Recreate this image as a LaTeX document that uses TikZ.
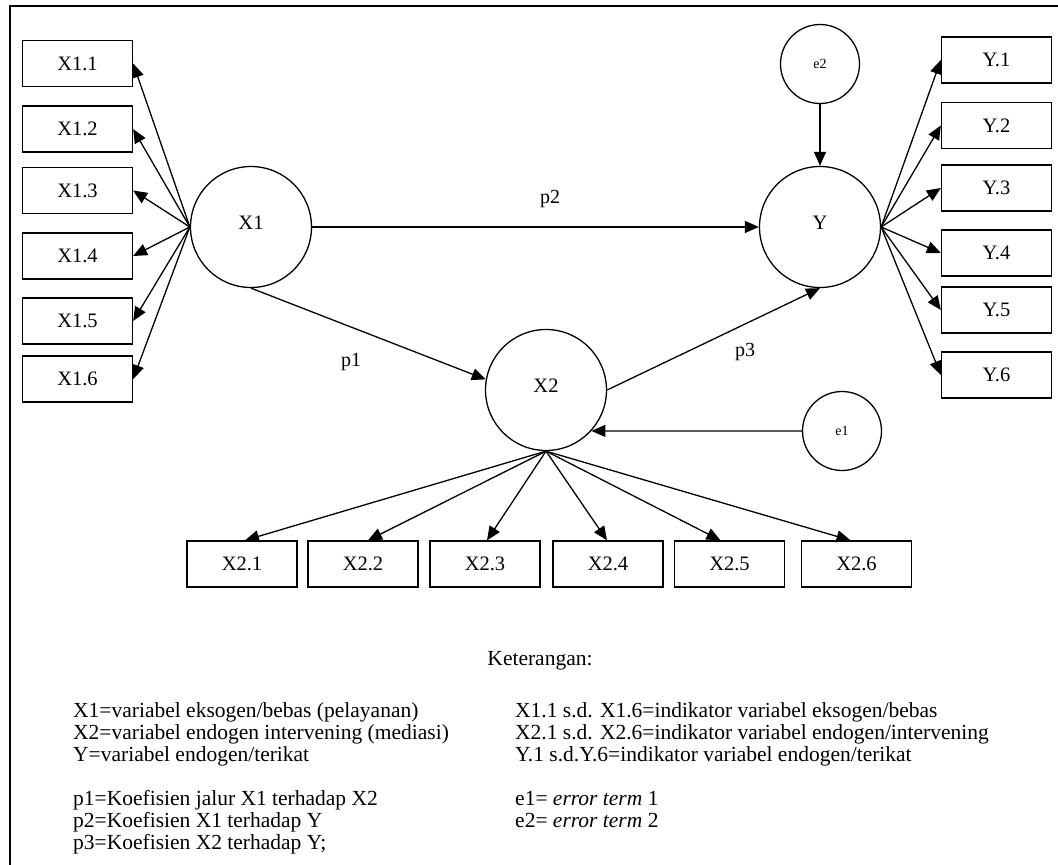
\documentclass[tikz,border=0pt]{standalone}
\usepackage{fontspec}
\setmainfont{Liberation Serif}
\usetikzlibrary{arrows.meta}

\begin{document}
\begin{tikzpicture}[x=1pt,y=-1pt,
  ind/.style={draw,line width=1.3pt,minimum width=110pt,minimum height=46pt,inner sep=0pt,
    font=\fontsize{20.5}{24}\selectfont},
  lat/.style={draw,circle,line width=1.3pt,minimum size=121pt,inner sep=0pt,
    font=\fontsize{20.5}{24}\selectfont,text depth=8pt},
  err/.style={draw,circle,line width=1.3pt,minimum size=79pt,inner sep=0pt,
    font=\fontsize{14}{16}\selectfont},
  arr/.style={line width=1.3pt,-{Triangle[length=14pt,width=12pt]}},
  lbl/.style={font=\fontsize{20}{24}\selectfont,inner sep=0pt},
  leg/.style={font=\fontsize{21.5}{24}\selectfont,anchor=base west,inner sep=0pt},
  legc/.style={font=\fontsize{21.5}{24}\selectfont,anchor=base,inner sep=0pt}
]
\useasboundingbox (0,0) rectangle (1058,865);

% outer frame (open to the right and bottom)
\draw[line width=1.8pt] (10,875) -- (10,6) -- (1070,6);

% latent variables
\node[lat] (X1) at (251,227) {X1};
\node[lat] (Y)  at (820,227) {Y};
\node[lat] (X2) at (546,390) {X2};

% error terms
\node[err] (e2) at (820,64) {e2};
\node[err] (e1) at (842,431) {e1};

% indicators of X1
\node[ind] (X11) at (77.5,63.5) {X1.1};
\node[ind] (X12) at (77.5,129)  {X1.2};
\node[ind] (X13) at (77.5,190.5){X1.3};
\node[ind] (X14) at (77.5,256)  {X1.4};
\node[ind] (X15) at (77.5,321)  {X1.5};
\node[ind] (X16) at (77.5,379)  {X1.6};

% indicators of Y
\node[ind] (Y1) at (996.5,60)   {Y.1};
\node[ind] (Y2) at (996.5,125.5){Y.2};
\node[ind] (Y3) at (996.5,188)  {Y.3};
\node[ind] (Y4) at (996.5,253)  {Y.4};
\node[ind] (Y5) at (996.5,310)  {Y.5};
\node[ind] (Y6) at (996.5,375)  {Y.6};

% indicators of X2
\node[ind] (X21) at (242,564)   {X2.1};
\node[ind] (X22) at (363,564)   {X2.2};
\node[ind] (X23) at (485,564)   {X2.3};
\node[ind] (X24) at (608,564)   {X2.4};
\node[ind] (X25) at (729.5,564) {X2.5};
\node[ind] (X26) at (856.5,564) {X2.6};

% loadings
\foreach \i in {1,...,6} {
  \draw[arr] (X1.west) -- (X1\i.east);
  \draw[arr] (Y.east) -- (Y\i.west);
}
\draw[arr] (X2.south) -- ([xshift=3pt]X21.north);
\draw[arr] (X2.south) -- ([xshift=5pt]X22.north);
\draw[arr] (X2.south) -- ([xshift=2pt]X23.north);
\draw[arr] (X2.south) -- ([xshift=-1pt]X24.north);
\draw[arr] (X2.south) -- ([xshift=-9pt]X25.north);
\draw[arr] (X2.south) -- ([xshift=-6pt]X26.north);

% structural paths
\draw[arr] (X1.east) -- (Y.west);
\draw[arr] (X1.south) -- (X2.170);
\draw[arr] (X2.east) -- (Y.south);
\draw[arr] (e2.south) -- (Y.north);
\draw[arr] (e1.west) -- (X2.-42);

% path labels
\node[lbl] (p2) at (550,199) {p2};
\node[lbl] (p1) at (351,362) {p1};
\node[lbl] (p3) at (745,352) {p3};

% legend
\node[legc] (ket) at (540,665) {Keterangan:};
\node[leg] (l1) at (73,717) {X1=variabel eksogen/bebas (pelayanan)};
\node[leg] (l2) at (73,739) {X2=variabel endogen intervening (mediasi)};
\node[leg] (l3) at (73,761) {Y=variabel endogen/terikat};
\node[leg] (l4) at (73,805) {p1=Koefisien jalur X1 terhadap X2};
\node[leg] (l5) at (73,827) {p2=Koefisien X1 terhadap Y};
\node[leg] (l6) at (73,849) {p3=Koefisien X2 terhadap Y;};
\node[leg] (r1) at (515,717) {X1.1 s.d. X1.6=indikator variabel eksogen/bebas};
\node[leg] (r2) at (515,739) {X2.1 s.d. X2.6=indikator variabel endogen/intervening};
\node[leg] (r3) at (515,761) {Y.1 s.d.Y.6=indikator variabel endogen/terikat};
\node[leg] (r4) at (515,805) {e1= \textit{error term} 1};
\node[leg] (r5) at (515,827) {e2= \textit{error term} 2};
\end{tikzpicture}
\end{document}
